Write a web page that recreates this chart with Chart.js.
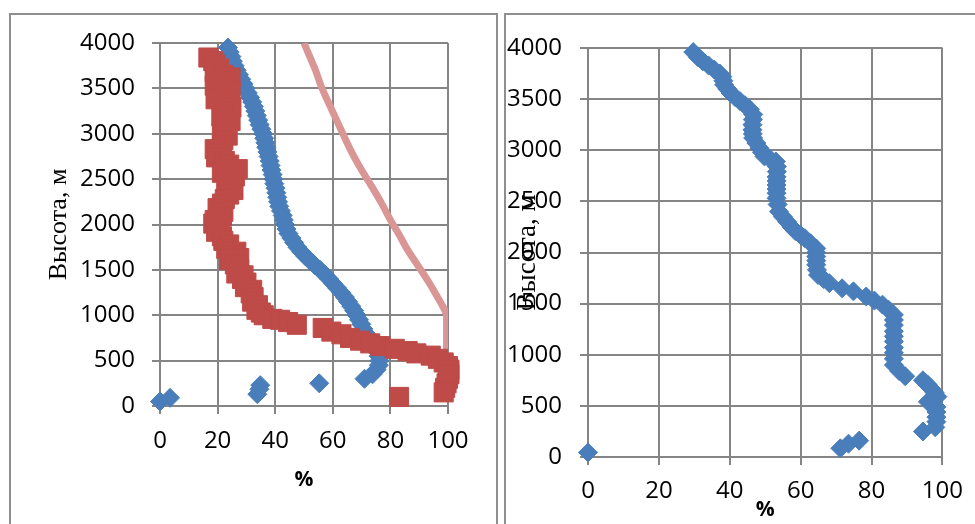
<!DOCTYPE html>
<html>
<head>
<meta charset="utf-8">
<script src="https://cdn.jsdelivr.net/npm/chart.js@4"></script>
<style>
  html, body { margin: 0; padding: 0; background: #fff; }
  body { width: 975px; height: 524px; position: relative; overflow: hidden; }
  .frame { position: absolute; border: 2px solid #8f8f8f; box-sizing: border-box; }
  canvas { position: absolute; top: 0; }
</style>
</head>
<body>
<div class="frame" style="left:9px; top:13px; width:489px; height:600px;"></div>
<div class="frame" style="left:504px; top:13px; width:600px; height:600px;"></div>
<canvas id="left-chart" width="500" height="524" style="left:0; width:500px; height:524px;"></canvas>
<canvas id="right-chart" width="475" height="524" style="left:500px; width:475px; height:524px;"></canvas>
<script>
/* ============================================================
   Высота / % profiles, two panels
   ============================================================ */

// axis ticks (both panels)
const pctTicks = [0, 20, 40, 60, 80, 100];
const heightTicks = [0, 500, 1000, 1500, 2000, 2500, 3000, 3500, 4000];
const yTitle = 'Высота, м';
const xTitle = '%';

// left panel: blue diamonds [%, height]
const leftBlue = [
  [23.6,3950],[24.2,3900],[24.8,3850],[25.3,3800],[25.9,3750],[26.6,3700],[27.4,3650],[28.2,3600],
  [29.0,3550],[29.7,3500],[30.5,3450],[31.3,3400],[32.0,3350],[32.6,3300],[33.1,3250],[33.6,3200],
  [34.1,3150],[34.6,3100],[35.2,3050],[35.8,3000],[36.2,2950],[36.6,2900],[36.9,2850],[37.3,2800],
  [37.7,2750],[38.1,2700],[38.4,2650],[38.7,2600],[39.1,2550],[39.4,2500],[39.7,2450],[40.1,2400],
  [40.4,2350],[40.7,2300],[41.0,2250],[41.4,2200],[42.0,2150],[42.6,2100],[43.0,2050],[43.4,2000],
  [43.9,1950],[44.6,1900],[45.6,1850],[46.6,1800],[47.7,1750],[49.0,1700],[50.5,1650],[52.1,1600],
  [53.8,1550],[55.6,1500],[57.2,1450],[58.7,1400],[60.1,1350],[61.5,1300],[62.9,1250],[64.2,1200],
  [65.3,1150],[66.4,1100],[67.4,1050],[68.3,1000],[69.1,950],[69.9,900],[70.6,850],[71.5,800],
  [72.4,750],[73.4,700],[74.5,650],[75.3,600],[75.9,550],[76.2,500],[76.0,450],[75.2,400],
  [73.8,350],[71.0,300],
  [0,50],[3.5,90],[33.8,130],[34.5,185],[34.8,230],[55.3,250]
];

// left panel: red squares [%, height]
const leftRed = [
  [16.8,3840],[18.5,3800],[19.3,3760],[20.5,3720],[19.0,3680],[22.0,3650],[24.5,3620],[23.0,3570],
  [19.0,3530],[24.5,3480],[21.0,3440],[19.3,3380],[23.5,3340],[24.8,3290],[22.0,3240],[21.3,3190],
  [24.5,3140],[23.0,3080],[21.5,3030],[23.5,2980],[22.0,2930],[21.5,2880],[19.0,2830],[20.5,2780],
  [19.5,2740],[22.5,2700],[24.0,2660],[27.0,2610],[21.5,2570],[26.0,2530],[25.0,2480],[23.0,2430],
  [25.5,2380],[24.0,2330],[22.5,2280],[21.5,2230],[20.0,2180],[22.0,2140],[21.5,2090],[19.0,2050],
  [18.5,2010],[20.5,1960],[19.5,1920],[21.5,1870],[22.0,1820],[24.0,1780],[23.0,1730],[26.5,1700],
  [25.0,1660],[27.5,1630],[24.0,1610],[26.0,1560],[27.5,1510],[26.5,1460],[29.0,1440],[28.5,1400],
  [30.0,1360],[29.5,1310],[32.0,1280],[31.5,1240],[32.5,1200],[32.0,1150],[34.0,1110],[33.5,1060],
  [35.0,1030],[36.0,1000],[39.0,960],[41.7,950],[44.5,925],[47.5,895],[56.5,860],[59.5,820],
  [63.0,790],[66.0,750],[69.5,720],[73.0,690],[76.5,660],[81.5,630],[86.0,605],[89.0,580],
  [94.0,555],[96.5,520],[98.5,480],[100.0,440],[100.5,400],[100.5,350],[100.0,300],[99.5,250],
  [99.0,200],[98.5,150],[83.0,100]
];

// left panel: pink line [%, height]
const leftLine = [
  [50,4000],[52,3850],[54,3700],[56,3520],[58.4,3350],[61,3170],[63.5,3000],[66.5,2800],[70,2600],
  [73.5,2420],[77,2230],[80.2,2040],[83,1890],[85.6,1740],[89.5,1550],[93.2,1370],[96,1220],
  [98.5,1080],[99.5,1020],[99.5,500]
];

// right panel: blue diamonds [%, height]
const rightBlue = [
  [29.7,3960],[31.0,3910],[32.4,3870],[34.0,3830],[35.6,3790],[37.2,3750],[37.9,3720],[38.2,3680],
  [38.4,3640],[39.3,3600],[40.2,3560],[41.5,3520],[42.9,3480],[44.3,3440],[45.7,3400],[46.6,3350],
  [46.5,3300],[46.4,3250],[46.4,3200],[46.5,3160],[46.6,3120],[47.5,3070],[48.4,3020],[49.1,2980],
  [49.8,2940],[51.5,2910],[53.0,2890],[53.3,2840],[53.3,2790],[53.2,2740],[53.2,2700],[53.2,2660],
  [53.2,2620],[53.2,2580],[53.2,2530],[53.5,2470],[53.9,2400],[55.0,2350],[56.2,2300],[57.4,2250],
  [58.5,2210],[60.0,2170],[61.2,2140],[62.8,2090],[64.4,2040],[64.4,2000],[64.4,1960],[64.4,1920],
  [64.4,1880],[64.6,1830],[64.9,1780],[66.5,1740],[68.1,1700],[71.7,1650],[74.9,1620],[78.5,1570],
  [80.8,1530],[83.1,1490],[84.8,1440],[86.3,1390],[86.3,1340],[86.3,1290],[86.3,1230],[86.3,1180],
  [86.3,1130],[86.3,1070],[86.3,1020],[86.3,960],[86.3,900],[87.8,840],[89.5,790],[94.5,750],
  [95.8,710],[96.8,670],[97.8,630],[98.6,590],[95.9,540],[98.3,490],[98.3,440],[98.3,390],
  [98.3,345],[98.0,290],[94.5,250],
  [0,45],[71.2,85],[73.5,130],[76.5,160]
];

const BLUE = '#4A7EBB';
const RED = '#BE4B48';
const PINK = '#D99694';
const GRID = '#858585';

function toPoints(arr) {
  return arr.map(p => ({ x: p[0], y: p[1] }));
}

function diamonds(data) {
  return {
    data: toPoints(data),
    showLine: false,
    clip: false,
    pointStyle: 'rectRot',
    pointRadius: 9.5,
    pointBackgroundColor: BLUE,
    pointBorderColor: BLUE,
    pointBorderWidth: 1
  };
}

// box sizes are fixed so the plot areas land where the reference has them
function buildOptions(cfg) {
  return {
    responsive: false,
    animation: false,
    events: [],
    layout: { padding: cfg.padding },
    plugins: { legend: { display: false }, tooltip: { enabled: false } },
    scales: {
      x: {
        type: 'linear',
        min: pctTicks[0],
        max: pctTicks[pctTicks.length - 1],
        afterBuildTicks: (s) => { s.ticks = pctTicks.map(v => ({ value: v })); },
        afterFit: (s) => { s.height = cfg.xHeight; },
        grid: { color: GRID, lineWidth: 2, drawTicks: true, tickLength: 8 },
        border: { color: GRID, width: 2 },
        ticks: {
          color: '#000',
          padding: cfg.xTickPad,
          maxRotation: 0,
          callback: (v) => String(v),
          font: { family: 'Open Sans', size: 24 }
        },
        title: {
          display: true,
          text: xTitle,
          color: '#000',
          font: { family: 'Open Sans', size: 21, weight: 'bold' },
          padding: { top: 0, bottom: cfg.xTitlePad }
        }
      },
      y: {
        type: 'linear',
        min: heightTicks[0],
        max: heightTicks[heightTicks.length - 1],
        afterBuildTicks: (s) => { s.ticks = heightTicks.map(v => ({ value: v })); },
        afterFit: (s) => { s.width = cfg.yWidth; },
        grid: { color: GRID, lineWidth: 2, drawTicks: true, tickLength: 8 },
        border: { color: GRID, width: 2 },
        ticks: {
          color: '#000',
          padding: cfg.yTickPad,
          callback: (v) => String(v),
          font: { family: 'Open Sans', size: 24 }
        },
        title: {
          display: true,
          text: yTitle,
          color: '#000',
          font: { family: 'Liberation Serif', size: cfg.yTitleSize },
          padding: { top: cfg.yTitlePad, bottom: 0 }
        }
      }
    }
  };
}

new Chart(document.getElementById('left-chart'), {
  type: 'scatter',
  data: {
    datasets: [
      {
        data: toPoints(leftRed),
        showLine: false,
        clip: false,
        pointStyle: 'rect',
        pointRadius: 13.5,
        pointBackgroundColor: RED,
        pointBorderColor: RED,
        pointBorderWidth: 1
      },
      diamonds(leftBlue),
      {
        data: toPoints(leftLine),
        showLine: true,
        borderColor: PINK,
        borderWidth: 7,
        pointRadius: 0,
        cubicInterpolationMode: 'monotone'
      }
    ]
  },
  options: buildOptions({
    padding: { left: 0, top: 43, right: 52, bottom: 0 },
    yWidth: 160, xHeight: 118,
    yTickPad: 17, xTickPad: 13,
    yTitleSize: 26, yTitlePad: 44,
    xTitlePad: 31
  })
});

new Chart(document.getElementById('right-chart'), {
  type: 'scatter',
  data: { datasets: [diamonds(rightBlue)] },
  options: buildOptions({
    padding: { left: 0, top: 48, right: 22, bottom: 0 },
    yWidth: 88, xHeight: 67,
    yTickPad: 18, xTickPad: 12,
    yTitleSize: 27, yTitlePad: 12,
    xTitlePad: 1
  })
});
</script>
</body>
</html>
